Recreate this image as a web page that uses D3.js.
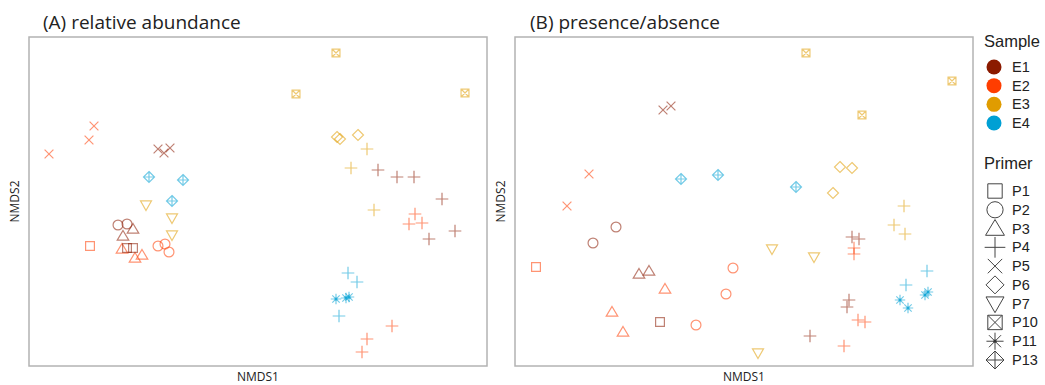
<!DOCTYPE html>
<html><head><meta charset="utf-8">
<script src="https://cdn.jsdelivr.net/npm/d3@7"></script>
<style>body{margin:0;background:#fff;} svg{display:block;}</style>
</head><body>
<svg id="chart" width="1045" height="385"></svg>
<script>
// ---- data ----
const samples = ["E1","E2","E3","E4"];
const sampleColors = ["#8B1A00","#FF3D00","#E09C00","#00A0D4"];
const primers = ["P1","P2","P3","P4","P5","P6","P7","P10","P11","P13"];
const panelTitles = ["(A) relative abundance","(B) presence/absence"];

// Panel A: relative abundance
const aX = [-1.64,-1.69,-2.09,-1.00,-0.94,-0.88,-1.09,-0.75,-0.86,-1.12,-0.86,-0.86,
  -1.40,-1.31,-1.00,-0.93,-0.89,-1.25,-1.35,-1.36,-1.16,-1.23,-1.68,-1.31,-1.25,
  0.78,0.38,2.07,0.79,0.82,1.00,1.09,0.93,1.16,1.20,1.39,1.56,1.84,
  1.57,1.51,1.64,1.71,1.97,0.90,0.99,0.81,0.78,0.88,0.91,1.34,1.09,1.04];
const aY = [0.755,0.615,0.475,0.525,0.485,0.535,0.245,0.215,0.005,-0.035,-0.165,-0.335,
  -0.235,-0.225,-0.445,-0.425,-0.505,-0.275,-0.345,-0.475,-0.535,-0.565,-0.445,-0.465,-0.465,
  1.485,1.075,1.085,0.645,0.625,0.665,0.525,0.335,-0.085,0.315,0.245,0.245,0.025,
  -0.125,-0.225,-0.215,-0.375,-0.295,-0.715,-0.805,-1.145,-0.975,-0.965,-0.955,-1.245,-1.375,-1.505];
const aSample = ["E2","E2","E2","E1","E1","E1","E4","E4","E4","E3","E3","E3",
  "E1","E1","E2","E2","E2","E1","E1","E2","E2","E2","E2","E1","E1",
  "E3","E3","E3","E3","E3","E3","E3","E3","E3","E1","E1","E1","E1",
  "E2","E2","E2","E1","E1","E4","E4","E4","E4","E4","E4","E2","E2","E2"];
const aPrimer = ["P5","P5","P5","P5","P5","P5","P13","P13","P13","P7","P7","P7",
  "P2","P2","P2","P2","P2","P3","P3","P3","P3","P3","P1","P1","P1",
  "P10","P10","P10","P6","P6","P6","P4","P4","P4","P4","P4","P4","P4",
  "P4","P4","P4","P4","P4","P4","P4","P4","P11","P11","P11","P4","P4","P4"];

// Panel B: presence/absence
const bX = [-0.81,-0.73,-1.55,-1.77,-0.63,-0.26,0.52,-1.28,-1.51,-2.08,-1.05,-0.95,
  -0.79,-1.32,-1.21,-0.84,-0.11,-0.18,-0.48,0.62,2.08,1.18,0.96,1.08,0.89,
  1.60,1.50,1.61,0.28,0.70,0.14,1.08,1.15,1.10,1.10,1.83,1.62,
  1.56,1.64,1.81,1.84,1.05,1.03,1.14,1.21,0.66,1.00];
const bY = [0.915,0.955,0.275,-0.045,0.225,0.265,0.145,-0.255,-0.415,-0.655,-0.725,-0.695,
  -0.875,-1.105,-1.305,-1.205,-0.665,-0.925,-1.235,1.485,1.205,0.865,0.345,0.335,0.085,
  -0.045,-0.235,-0.325,-0.475,-0.555,-1.515,-0.355,-0.375,-0.465,-0.525,-0.695,-0.835,
  -0.985,-1.065,-0.935,-0.905,-0.985,-1.055,-1.185,-1.205,-1.345,-1.445];
const bSample = ["E1","E1","E2","E2","E4","E4","E4","E1","E1","E2","E1","E1",
  "E2","E2","E2","E1","E2","E2","E2","E3","E3","E3","E3","E3","E3",
  "E3","E3","E3","E3","E3","E3","E1","E1","E2","E2","E4","E4",
  "E4","E4","E4","E4","E1","E1","E2","E2","E1","E2"];
const bPrimer = ["P5","P5","P5","P5","P13","P13","P13","P2","P2","P1","P3","P3",
  "P3","P3","P3","P1","P2","P2","P2","P10","P10","P10","P6","P6","P6",
  "P4","P4","P4","P7","P7","P7","P4","P4","P4","P4","P4","P4",
  "P11","P11","P11","P11","P4","P4","P4","P4","P4","P4"];

// ---- symbol geometry ----
function shape(p, s, legend) {
  const h = s/2;
  switch (p) {
    case "P1": return `M${-h*0.8},${-h*0.8}H${h*0.8}V${h*0.8}H${-h*0.8}Z`;
    case "P2": return `M${h*0.9},0A${h*0.9},${h*0.9} 0 1,1 ${-h*0.9},0A${h*0.9},${h*0.9} 0 1,1 ${h*0.9},0Z`;
    case "P3": return `M0,${-h*1.0}L${h*1.05},${h*0.75}H${-h*1.05}Z`;
    case "P4": return `M${-h*1.15},0H${h*1.15}M0,${-h*1.15}V${h*1.15}`;
    case "P5": return `M${-h*0.8},${-h*0.8}L${h*0.8},${h*0.8}M${h*0.8},${-h*0.8}L${-h*0.8},${h*0.8}`;
    case "P6": return `M0,${-h}L${h},0L0,${h}L${-h},0Z`;
    case "P7": return `M0,${h*1.0}L${h*1.0},${-h*0.75}H${-h*1.0}Z`;
    case "P10": { const q=h*(legend?0.8:0.72); return `M${-q},${-q}H${q}V${q}H${-q}ZM${-q},${-q}L${q},${q}M${q},${-q}L${-q},${q}`; }
    case "P11": { const r=h*0.95, d=r*0.707; return `M${-r},0H${r}M0,${-r}V${r}M${-d},${-d}L${d},${d}M${d},${-d}L${-d},${d}`; }
    case "P13": return `M0,${-h}L${h},0L0,${h}L${-h},0ZM${-h},0H${h}M0,${-h}V${h}`;
  }
}

const svg = d3.select("#chart");
const color = d3.scaleOrdinal().domain(samples).range(sampleColors);

const panels = [
  {title: panelTitles[0], x: aX, y: aY, s: aSample, p: aPrimer, left: 29, titleX: 43},
  {title: panelTitles[1], x: bX, y: bY, s: bSample, p: bPrimer, left: 515, titleX: 530}
];
const plotTop = 37, pw = 458, ph = 329;

panels.forEach(pn => {
  const g = svg.append("g");
  const xs = d3.scaleLinear().domain([-2.29, 2.29]).range([pn.left, pn.left + pw]);
  const ys = d3.scaleLinear().domain([-1.645, 1.645]).range([plotTop + ph, plotTop]);
  g.append("rect").attr("x", pn.left).attr("y", plotTop).attr("width", pw).attr("height", ph)
    .attr("fill", "none").attr("stroke", "#b3b3b3").attr("stroke-width", 1.5);
  g.append("text").attr("x", pn.titleX).attr("y", 29).text(pn.title)
    .attr("font-family", "Open Sans, sans-serif").attr("font-size", 19).attr("fill", "#222");
  g.append("text").attr("x", pn.left + pw/2).attr("y", 381).attr("text-anchor", "middle")
    .text("NMDS1").attr("font-family", "Open Sans, sans-serif").attr("font-size", 12).attr("fill", "#222");
  g.append("text").attr("transform", `translate(${pn.left - 10},${plotTop + ph/2}) rotate(-90)`)
    .attr("text-anchor", "middle").text("NMDS2")
    .attr("font-family", "Open Sans, sans-serif").attr("font-size", 12).attr("fill", "#222");
  const pts = pn.x.map((v, i) => ({x: v, y: pn.y[i], s: pn.s[i], p: pn.p[i]}));
  g.selectAll("path.pt").data(pts).join("path").attr("class", "pt")
    .attr("transform", d => `translate(${xs(d.x)},${ys(d.y)})`)
    .attr("d", d => shape(d.p, 11, false))
    .attr("fill", "none").attr("stroke", d => color(d.s))
    .attr("stroke-opacity", 0.55).attr("stroke-width", 1.2);
  g.selectAll("circle.dot").data(pts.filter(d => d.p === "P11")).join("circle").attr("class", "dot")
    .attr("cx", d => xs(d.x)).attr("cy", d => ys(d.y)).attr("r", 1.5)
    .attr("fill", d => color(d.s)).attr("fill-opacity", 0.7);
});

// ---- legend ----
const lg = svg.append("g");
const lf = "Liberation Sans, Arial, sans-serif";
lg.append("text").attr("x", 984).attr("y", 47).text("Sample").attr("font-family", lf).attr("font-size", 16.5).attr("fill", "#222");
const sy = d3.scalePoint().domain(samples).range([67, 123]);
samples.forEach(s => {
  lg.append("circle").attr("cx", 994).attr("cy", sy(s)).attr("r", 7.5).attr("fill", color(s));
  lg.append("text").attr("x", 1012).attr("y", sy(s) + 5).text(s).attr("font-family", lf).attr("font-size", 14.5).attr("fill", "#222");
});
lg.append("text").attr("x", 984).attr("y", 169).text("Primer").attr("font-family", lf).attr("font-size", 16.5).attr("fill", "#222");
const py = d3.scalePoint().domain(primers).range([191, 360]);
primers.forEach(p => {
  lg.append("path").attr("transform", `translate(995,${py(p)})`).attr("d", shape(p, 18, true))
    .attr("fill", "none").attr("stroke", "#444").attr("stroke-width", 1);
  if (p === "P11") lg.append("circle").attr("cx", 995).attr("cy", py(p)).attr("r", 1.6).attr("fill", "#333");
  lg.append("text").attr("x", 1012).attr("y", py(p) + 5).text(p).attr("font-family", lf).attr("font-size", 14.5).attr("fill", "#222");
});
</script>
</body></html>
